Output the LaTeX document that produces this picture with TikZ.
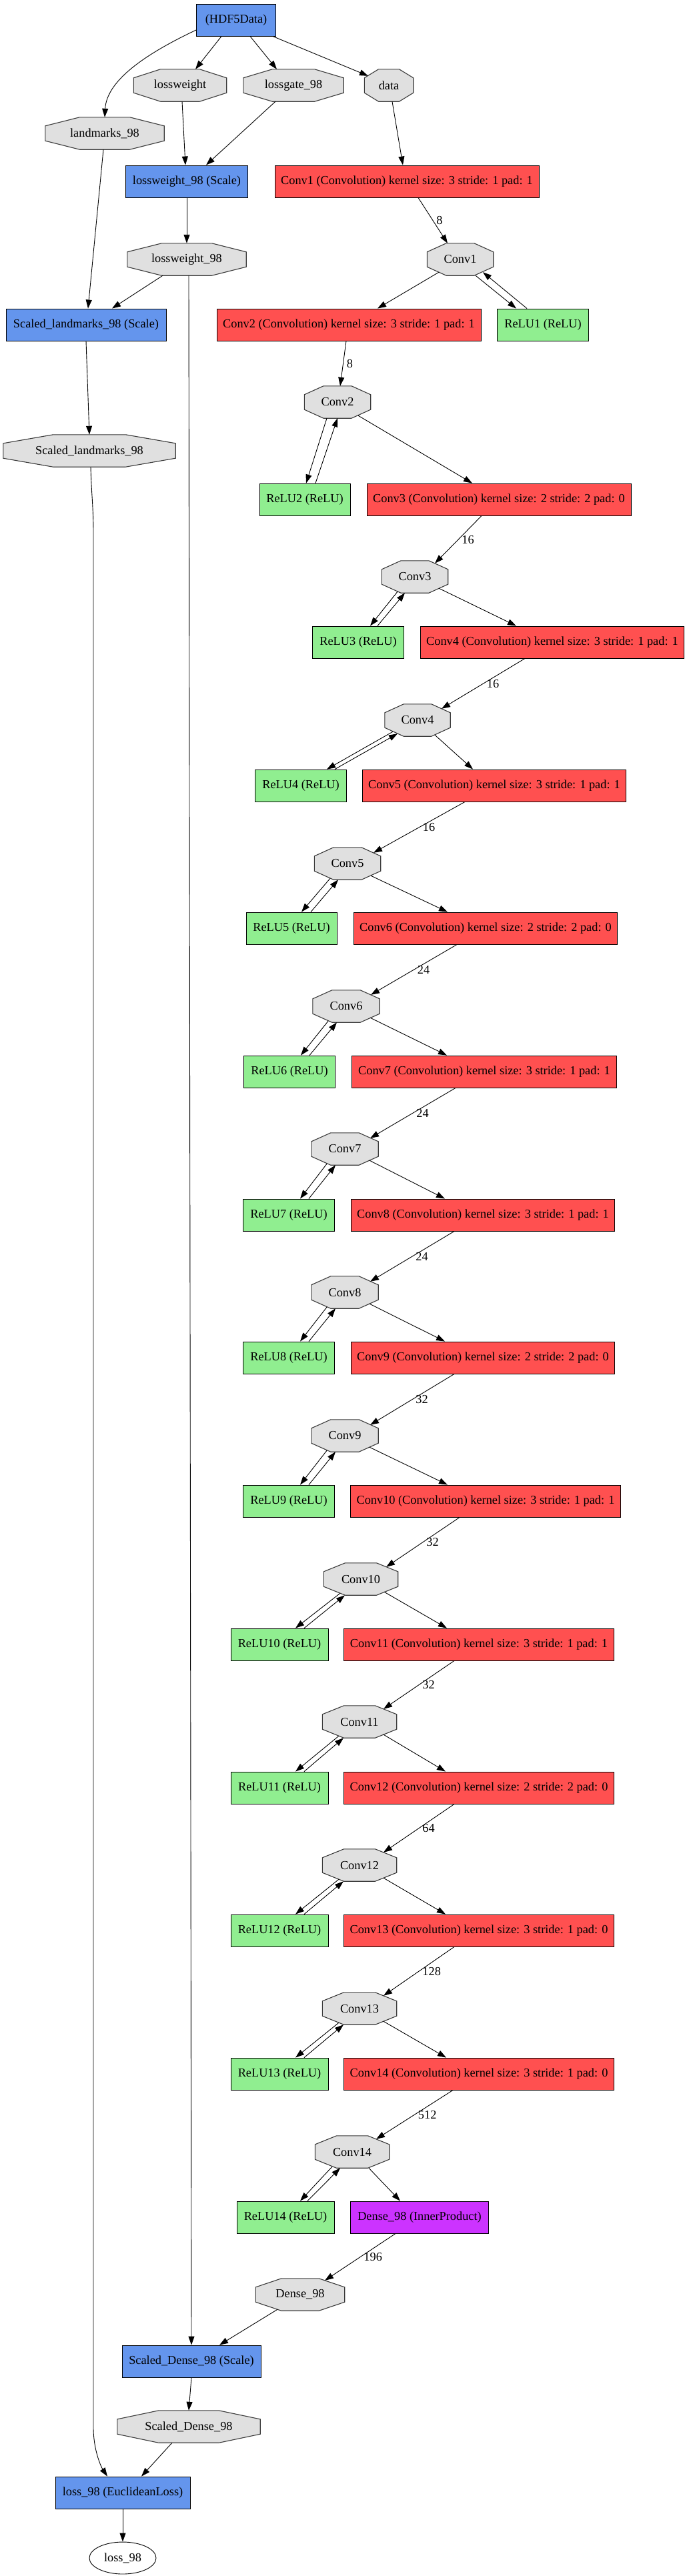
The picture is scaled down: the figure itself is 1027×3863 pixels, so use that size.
\documentclass[tikz,border=0pt]{standalone}
\usepackage{fontspec}
\setmainfont{Liberation Serif}
\usetikzlibrary{arrows.meta,shapes.geometric,calc,backgrounds}
\definecolor{cblue}{HTML}{6495ED}
\definecolor{cred}{HTML}{FF5050}
\definecolor{cgreen}{HTML}{90EE90}
\definecolor{cpurple}{HTML}{CC33FF}
\definecolor{octg}{HTML}{E0E0E0}
\definecolor{octborder}{HTML}{3A3A3A}
\newcommand\fs{\fontsize{18.3}{22}\selectfont}
% oct, relu, down-start dx, down-start raise, down-end dx, up-start dx, up-end dx, up-end raise
\newcommand\rpair[8]{%
  \draw[arr] ([xshift=#3pt,yshift=#4pt]#1.south) -- ([xshift=#5pt]#2.north);
  \draw[arr] ([xshift=#6pt]#2.north) -- ([xshift=#7pt,yshift=#8pt]#1.south);
}
% octagon outline behind a node: name, width
\newcommand\octo[2]{%
  \filldraw[octline] ($(#1.north west)+(0.29*#2,0)$) -- ($(#1.north east)+(-0.29*#2,0)$)
    -- ($(#1.north east)+(0,13)$) -- ($(#1.south east)+(0,-13)$)
    -- ($(#1.south east)+(-0.29*#2,0)$) -- ($(#1.south west)+(0.29*#2,0)$)
    -- ($(#1.south west)+(0,-13)$) -- ($(#1.north west)+(0,13)$) -- cycle;
}
\tikzset{
  base/.style={draw=black, line width=0.9pt, font=\fs, inner sep=0pt, minimum height=48pt},
  bluebox/.style={base, rectangle, fill=cblue, minimum width=#1pt},
  redbox/.style={base, rectangle, fill=cred, minimum width=#1pt},
  greenbox/.style={base, rectangle, fill=cgreen, minimum width=#1pt},
  purplebox/.style={base, rectangle, fill=cpurple, minimum width=#1pt},
  oct/.style={font=\fs, inner sep=0pt, rectangle, minimum height=48pt, minimum width=#1pt},
  octline/.style={draw=octborder, fill=octg, line width=1.1pt, line join=miter},
  ell/.style={base, ellipse, fill=white, minimum width=#1pt},
  arr/.style={draw=black, line width=0.9pt, -{Triangle[length=13pt,width=9pt]}},
  lbl/.style={font=\fs, anchor=west, inner sep=5pt},
}
\begin{document}
\begin{tikzpicture}[x=1pt,y=-1pt]
\useasboundingbox (0,0) rectangle (1027,3863);
% nodes
\node[bluebox=119] (hdf) at (354,30) {(HDF5Data)};
\node[oct=139] (lw) at (270,128) {lossweight};
\node[oct=150] (lg) at (440,128) {lossgate\_98};
\node[oct=73] (data) at (583,128) {data};
\node[oct=178] (lm) at (157,200) {landmarks\_98};
\node[bluebox=183] (lws) at (280,272) {lossweight\_98 (Scale)};
\node[redbox=396] (conv1) at (610,272) {Conv1 (Convolution) kernel size: 3 stride: 1 pad: 1};
\node[oct=178] (lwo) at (280,389) {lossweight\_98};
\node[oct=99] (c1) at (690,389) {Conv1};
\node[bluebox=240] (sls) at (129,487) {Scaled\_landmarks\_98 (Scale)};
\node[redbox=396] (conv2) at (523,487) {Conv2 (Convolution) kernel size: 3 stride: 1 pad: 1};
\node[greenbox=137] (r1) at (814,487) {ReLU1 (ReLU)};
\node[oct=99] (c2) at (506,603) {Conv2};
\node[oct=258] (slo) at (134,676) {Scaled\_landmarks\_98};
\node[greenbox=136] (r2) at (457,749) {ReLU2 (ReLU)};
\node[redbox=396] (conv3) at (748,749) {Conv3 (Convolution) kernel size: 2 stride: 2 pad: 0};
\node[oct=99] (c3) at (622,865) {Conv3};
\node[greenbox=137] (r3) at (537,963) {ReLU3 (ReLU)};
\node[redbox=395] (conv4) at (828,963) {Conv4 (Convolution) kernel size: 3 stride: 1 pad: 1};
\node[oct=98] (c4) at (626,1080) {Conv4};
\node[greenbox=137] (r4) at (451,1178) {ReLU4 (ReLU)};
\node[redbox=395] (conv5) at (741,1178) {Conv5 (Convolution) kernel size: 3 stride: 1 pad: 1};
\node[oct=99] (c5) at (521,1295) {Conv5};
\node[greenbox=136] (r5) at (437,1392) {ReLU5 (ReLU)};
\node[redbox=395] (conv6) at (728,1392) {Conv6 (Convolution) kernel size: 2 stride: 2 pad: 0};
\node[oct=100] (c6) at (519,1509) {Conv6};
\node[greenbox=137] (r6) at (434,1607) {ReLU6 (ReLU)};
\node[redbox=397] (conv7) at (726,1607) {Conv7 (Convolution) kernel size: 3 stride: 1 pad: 1};
\node[oct=100] (c7) at (517,1723) {Conv7};
\node[greenbox=137] (r7) at (433,1822) {ReLU7 (ReLU)};
\node[redbox=395] (conv8) at (724,1822) {Conv8 (Convolution) kernel size: 3 stride: 1 pad: 1};
\node[oct=100] (c8) at (517,1938) {Conv8};
\node[greenbox=137] (r8) at (433,2036) {ReLU8 (ReLU)};
\node[redbox=395] (conv9) at (724,2036) {Conv9 (Convolution) kernel size: 2 stride: 2 pad: 0};
\node[oct=100] (c9) at (517,2153) {Conv9};
\node[greenbox=137] (r9) at (433,2251) {ReLU9 (ReLU)};
\node[redbox=405] (conv10) at (728,2251) {Conv10 (Convolution) kernel size: 3 stride: 1 pad: 1};
\node[oct=111] (c10) at (541,2368) {Conv10};
\node[greenbox=146] (r10) at (419,2466) {ReLU10 (ReLU)};
\node[redbox=405] (conv11) at (718,2466) {Conv11 (Convolution) kernel size: 3 stride: 1 pad: 1};
\node[oct=111] (c11) at (539,2582) {Conv11};
\node[greenbox=146] (r11) at (419,2681) {ReLU11 (ReLU)};
\node[redbox=405] (conv12) at (718,2681) {Conv12 (Convolution) kernel size: 2 stride: 2 pad: 0};
\node[oct=111] (c12) at (539,2797) {Conv12};
\node[greenbox=146] (r12) at (419,2895) {ReLU12 (ReLU)};
\node[redbox=405] (conv13) at (718,2895) {Conv13 (Convolution) kernel size: 3 stride: 1 pad: 0};
\node[oct=111] (c13) at (539,3012) {Conv13};
\node[greenbox=146] (r13) at (419,3110) {ReLU13 (ReLU)};
\node[redbox=405] (conv14) at (718,3110) {Conv14 (Convolution) kernel size: 3 stride: 1 pad: 0};
\node[oct=111] (c14) at (528,3227) {Conv14};
\node[greenbox=146] (r14) at (428,3325) {ReLU14 (ReLU)};
\node[purplebox=207] (dense) at (629,3325) {Dense\_98 (InnerProduct)};
\node[oct=133] (d98) at (450,3441) {Dense\_98};
\node[bluebox=208] (sds) at (287,3541) {Scaled\_Dense\_98 (Scale)};
\node[oct=214] (sdo) at (283,3639) {Scaled\_Dense\_98};
\node[bluebox=202] (lossb) at (184,3738) {loss\_98 (EuclideanLoss)};
\node[ell=100] (losse) at (184,3836) {loss\_98};
% octagon outlines
\begin{pgfonlayer}{background}
\octo{lw}{139}\octo{lg}{150}\octo{data}{73}\octo{lm}{178}\octo{lwo}{178}
\octo{slo}{258}\octo{c1}{99}\octo{c2}{99}\octo{c3}{99}\octo{c4}{98}\octo{c5}{99}
\octo{c6}{100}\octo{c7}{100}\octo{c8}{100}\octo{c9}{100}\octo{c10}{111}
\octo{c11}{111}\octo{c12}{111}\octo{c13}{111}\octo{c14}{111}\octo{d98}{133}\octo{sdo}{214}
\end{pgfonlayer}
% top edges
\draw[arr] ([yshift=-15pt]hdf.west) .. controls (220,80) and (160,120) .. (lm.north);
\draw[arr] ([xshift=-22pt]hdf.south) -- ([xshift=23pt]lw.north);
\draw[arr] ([xshift=21pt]hdf.south) -- ([xshift=-25pt]lg.north);
\draw[arr] ([xshift=55pt]hdf.south) -- ([xshift=-31pt,yshift=-10pt]data.north);
\draw[arr] ([xshift=3pt]lw.south) -- ([xshift=-2pt]lws.north);
\draw[arr] ([xshift=-27pt]lg.south) -- ([xshift=29pt]lws.north);
\draw[arr] ([xshift=5pt]data.south) -- ([xshift=-6pt]conv1.north);
\draw[arr] (lws.south) -- (lwo.north);
\draw[arr] ([xshift=-2pt]lm.south) -- ([xshift=3pt]sls.north);
\draw[arr] ([xshift=-36pt]lwo.south) -- ([xshift=39pt]sls.north);
\draw[arr] (sls.south) -- (slo.north);
\draw[arr] ([xshift=3pt]lwo.south) -- ([xshift=0pt]sds.north);
\draw[arr] ([xshift=2pt]slo.south) .. controls (137,740) and (140,760) .. (140,800) -- (140,3640) .. controls (140,3675) and (152,3700) .. ([xshift=-23pt]lossb.north);
% main chain
\draw[arr] ([xshift=17pt]conv1.south) -- node[lbl] {8} ([xshift=-19pt]c1.north);
\draw[arr] ([xshift=-32pt,yshift=5pt]c1.south) -- ([xshift=43pt]conv2.north);
\draw[arr] ([xshift=-4pt]conv2.south) -- node[lbl] {8} ([xshift=4pt]c2.north);
\draw[arr] ([xshift=31pt,yshift=4pt]c2.south) -- ([xshift=-40pt]conv3.north);
\draw[arr] ([xshift=-26pt]conv3.south) -- node[lbl] {16} ([xshift=30pt,yshift=-4pt]c3.north);
\draw[arr] ([xshift=36pt,yshift=7pt]c3.south) -- ([xshift=-54pt]conv4.north);
\draw[arr] ([xshift=-41pt]conv4.south) -- node[lbl] {16} ([xshift=36pt,yshift=-7pt]c4.north);
\draw[arr] ([xshift=26pt,yshift=2pt]c4.south) -- ([xshift=-32pt]conv5.north);
\draw[arr] ([xshift=-44pt]conv5.south) -- node[lbl] {16} ([xshift=39pt,yshift=-8pt]c5.north);
\draw[arr] ([xshift=35pt,yshift=6pt]c5.south) -- ([xshift=-57pt]conv6.north);
\draw[arr] ([xshift=-43pt]conv6.south) -- node[lbl] {24} ([xshift=37pt,yshift=-7pt]c6.north);
\draw[arr] ([xshift=36pt,yshift=7pt]c6.south) -- ([xshift=-56pt]conv7.north);
\draw[arr] ([xshift=-43pt]conv7.south) -- node[lbl] {24} ([xshift=38pt,yshift=-8pt]c7.north);
\draw[arr] ([xshift=37pt,yshift=7pt]c7.south) -- ([xshift=-57pt]conv8.north);
\draw[arr] ([xshift=-43pt]conv8.south) -- node[lbl] {24} ([xshift=38pt,yshift=-8pt]c8.north);
\draw[arr] ([xshift=37pt,yshift=7pt]c8.south) -- ([xshift=-57pt]conv9.north);
\draw[arr] ([xshift=-43pt]conv9.south) -- node[lbl] {32} ([xshift=38pt,yshift=-8pt]c9.north);
\draw[arr] ([xshift=37pt,yshift=7pt]c9.south) -- ([xshift=-57pt]conv10.north);
\draw[arr] ([xshift=-39pt]conv10.south) -- node[lbl] {32} ([xshift=38pt,yshift=-6pt]c10.north);
\draw[arr] ([xshift=35pt,yshift=5pt]c10.south) -- ([xshift=-48pt]conv11.north);
\draw[arr] ([xshift=-37pt]conv11.south) -- node[lbl] {32} ([xshift=36pt,yshift=-5pt]c11.north);
\draw[arr] ([xshift=36pt,yshift=5pt]c11.south) -- ([xshift=-50pt]conv12.north);
\draw[arr] ([xshift=-37pt]conv12.south) -- node[lbl] {64} ([xshift=36pt,yshift=-5pt]c12.north);
\draw[arr] ([xshift=36pt,yshift=5pt]c12.south) -- ([xshift=-50pt]conv13.north);
\draw[arr] ([xshift=-37pt]conv13.south) -- node[lbl] {128} ([xshift=36pt,yshift=-5pt]c13.north);
\draw[arr] ([xshift=36pt,yshift=5pt]c13.south) -- ([xshift=-49pt]conv14.north);
\draw[arr] ([xshift=-39pt]conv14.south) -- node[lbl] {512} ([xshift=36pt,yshift=-5pt]c14.north);
\draw[arr] ([xshift=25pt]c14.south) -- ([xshift=-29pt]dense.north);
\draw[arr] ([xshift=-36pt]dense.south) -- node[lbl] {196} ([xshift=37pt,yshift=-3pt]d98.north);
\draw[arr] ([xshift=-34pt,yshift=2pt]d98.south) -- ([xshift=42pt]sds.north);
\draw[arr] (sds.south) -- (sdo.north);
\draw[arr] ([xshift=-25pt]sdo.south) -- ([xshift=28pt]lossb.north);
\draw[arr] (lossb.south) -- (losse.north);
% relu pairs
\rpair{c1}{r1}{23}{0}{-40}{-24}{34}{5}
\rpair{c2}{r2}{-16}{0}{2}{16}{0}{0}
\rpair{c3}{r3}{-26}{2}{18}{29}{-15}{0}
\rpair{c4}{r4}{-37}{7}{39}{51}{-30}{4}
\rpair{c5}{r5}{-26}{2}{15}{29}{-14}{0}
\rpair{c6}{r6}{-27}{2}{17}{30}{-14}{0}
\rpair{c7}{r7}{-27}{2}{17}{30}{-14}{0}
\rpair{c8}{r8}{-27}{2}{17}{30}{-14}{0}
\rpair{c9}{r9}{-27}{2}{17}{30}{-14}{0}
\rpair{c10}{r10}{-31}{3}{24}{37}{-24}{0}
\rpair{c11}{r11}{-31}{3}{24}{37}{-24}{0}
\rpair{c12}{r12}{-31}{3}{24}{37}{-24}{0}
\rpair{c13}{r13}{-31}{3}{24}{37}{-24}{0}
\rpair{c14}{r14}{-30}{2}{22}{33}{-18}{0}
\end{tikzpicture}
\end{document}
